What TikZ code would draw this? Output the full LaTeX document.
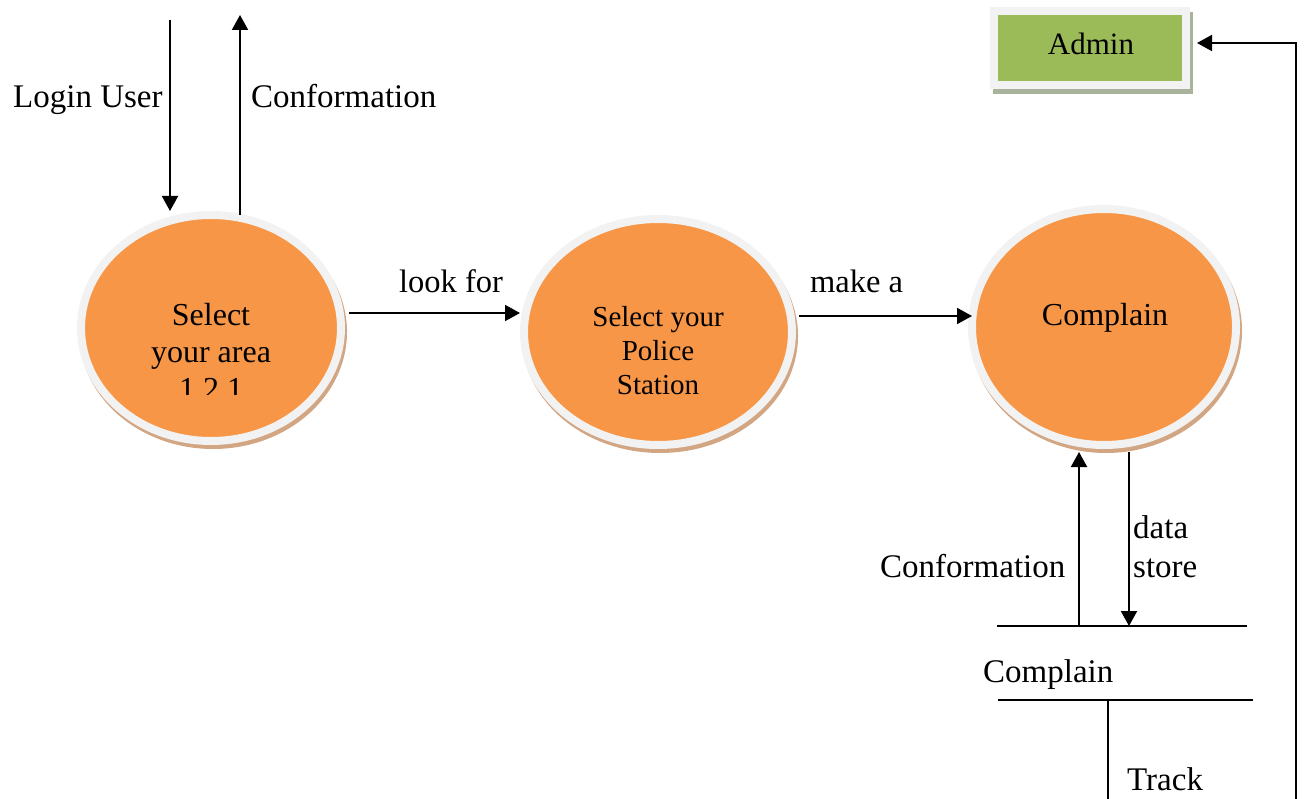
\documentclass[tikz,border=0pt]{standalone}
\usepackage{fontspec}
\setmainfont{Liberation Serif}
\usetikzlibrary{shapes.geometric,arrows.meta,calc}
\definecolor{orng}{HTML}{F79646}
\definecolor{rimc}{HTML}{F2F2F2}
\definecolor{shadc}{HTML}{D3A683}
\definecolor{grn}{HTML}{9BBB59}
\definecolor{gshad}{HTML}{A9B39B}
\begin{document}
\begin{tikzpicture}[x=1pt,y=-1pt,
  proc/.style={ellipse, fill=orng, draw=rimc, line width=8pt, inner sep=0pt},
  admbox/.style={rectangle, fill=grn, draw=rimc, line width=8pt, inner sep=0pt},
  ptext/.style={inner sep=0pt, anchor=north, align=center},
  arr/.style={line width=2pt, -{Triangle[length=15pt,width=16pt]}},
  ln/.style={line width=2pt},
  lbl/.style={inner sep=0pt, anchor=base west, font=\fontsize{33}{38}\selectfont},
  tlbl/.style={inner sep=0pt, anchor=base west, font=\fontsize{32.5}{38}\selectfont},
]
\useasboundingbox (0,0) rectangle (1308,799);

% shadows
\fill[shadc] (213,332) ellipse [x radius=134, y radius=117];
\fill[shadc] (660,336) ellipse [x radius=138, y radius=117];
\fill[shadc] (1106,331) ellipse [x radius=136, y radius=122];
\fill[gshad] (993,12) rectangle (1193,94);

% processes
\node[proc, minimum width=260pt, minimum height=226pt] (e1) at (211,328) {};
\node[proc, minimum width=268pt, minimum height=226pt] (e2) at (658,332) {};
\node[proc, minimum width=264pt, minimum height=236pt] (e3) at (1104,327) {};
\node[admbox, minimum width=192pt, minimum height=74pt] (adm) at (1090,48) {};

% process texts
\begin{scope}
  \clip (60,200) rectangle (360,394);
  \node[ptext, font=\fontsize{32}{37}\selectfont] (t1) at (211,303) {Select\\your area\\1.2.1};
\end{scope}
\node[ptext, font=\fontsize{29}{34}\selectfont] (t2) at (658,306) {Select your\\Police\\Station};
\node[ptext, font=\fontsize{32}{37}\selectfont] (t3) at (1105,303) {Complain};
\node[inner sep=0pt, anchor=base, font=\fontsize{31}{36}\selectfont] (tadm) at (1091,55) {Admin};

% coordinates
\coordinate (lu0) at (170,20);
\coordinate (cf0) at (240,15);
\coordinate (h1) at (0,313);
\coordinate (h2) at (0,316);
\coordinate (u0) at (1079,626);
\coordinate (d0) at (1129,626);
\coordinate (s1a) at (997,626);
\coordinate (s1b) at (1247,626);
\coordinate (s2a) at (998,700);
\coordinate (s2b) at (1253,700);
\coordinate (tr0) at (1108,700);
\coordinate (tr1) at (1108,800);
\coordinate (rb) at (1296,800);
\coordinate (rt) at (1296,43);

% connectors
\draw[arr] (lu0) -- (lu0 |- e1.north);
\draw[arr, shorten <=-4pt] (cf0 |- e1.north) -- (cf0);
\draw[arr, shorten <=4pt] (e1.east |- h1) -- (e2.west |- h1);
\draw[arr, shorten <=3pt, shorten >=-4pt] (e2.east |- h2) -- (e3.west |- h2);
\draw[arr, shorten >=3pt] (u0) -- (u0 |- e3.south);
\draw[arr, shorten <=3pt] (d0 |- e3.south) -- (d0);
\draw[ln] (s1a) -- (s1b);
\draw[ln] (s2a) -- (s2b);
\draw[ln] (tr0) -- (tr1);
\draw[arr, shorten >=7pt] (rb) -- (rt) -- (adm.east |- rt);

% labels
\node[lbl] (llu) at (13,108) {Login User};
\node[lbl] (lcf1) at (251,108) {Conformation};
\node[tlbl] (llook) at (399,293) {look for};
\node[tlbl] (lmake) at (810,293) {make a};
\node[lbl] (lcf2) at (880,577) {Conformation};
\node[lbl] (ldata) at (1133,538) {data};
\node[lbl] (lstore) at (1133,577) {store};
\node[lbl] (lcomp) at (983,682) {Complain};
\node[lbl] (ltrack) at (1127,790) {Track};
\end{tikzpicture}
\end{document}
